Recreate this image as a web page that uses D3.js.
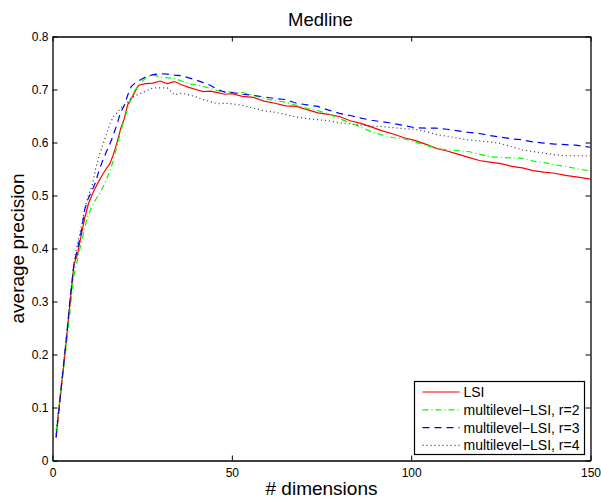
<!DOCTYPE html>
<html lang="en">
<head>
    <meta charset="UTF-8">
    <title>Medline</title>
    <script src="https://d3js.org/d3.v7.min.js"></script>
    <style>
        body { margin: 0; background: #fff; }
        text { font-family: 'Liberation Sans', Arial, sans-serif; fill: #000; }
        .tick text { font-size: 12px; }
        .axis path, .axis line { stroke: #000; }
    </style>
</head>
<body>
<script>
    const width  = 601;
    const height = 498;

    const dims = [1,2,3,4,5,6,7,8,9,10,11,12,13,14,15,16,17,18,19,20,21,22,23,24,
        26,28,30,32,34,36,38,40,42,44,46,48,50,
        53,56,59,62,65,68,71,74,77,80,83,86,89,92,95,98,101,104,107,110,113,116,119,
        122,125,128,131,134,137,140,143,146,150];

    const lsi = [0.045,0.108,0.170,0.235,0.305,0.370,0.390,0.425,0.458,0.484,0.501,0.515,0.528,0.540,0.551,0.560,0.578,0.600,0.626,0.645,0.672,0.683,0.696,0.708,
        0.711,0.712,0.716,0.711,0.715,0.709,0.704,0.700,0.696,0.697,0.694,0.691,0.692,
        0.687,0.685,0.678,0.674,0.669,0.668,0.662,0.656,0.653,0.649,0.641,0.636,0.629,0.622,0.616,0.609,0.604,0.597,0.589,0.584,0.578,0.572,0.566,
        0.563,0.560,0.555,0.552,0.547,0.544,0.542,0.538,0.535,0.531];

    const mlsi2 = [0.055,0.115,0.170,0.225,0.290,0.350,0.380,0.410,0.440,0.464,0.479,0.492,0.502,0.515,0.530,0.546,0.567,0.594,0.620,0.643,0.665,0.685,0.699,0.708,
        0.722,0.728,0.723,0.722,0.721,0.716,0.711,0.709,0.706,0.702,0.698,0.696,0.695,
        0.694,0.689,0.683,0.679,0.676,0.670,0.664,0.660,0.654,0.645,0.637,0.629,0.620,0.614,0.609,0.607,0.601,0.595,0.589,0.586,0.585,0.583,0.578,
        0.573,0.572,0.571,0.570,0.565,0.562,0.558,0.555,0.551,0.546];

    const mlsi3 = [0.043,0.110,0.175,0.240,0.310,0.372,0.400,0.432,0.474,0.495,0.509,0.525,0.548,0.566,0.582,0.597,0.615,0.635,0.657,0.670,0.690,0.706,0.712,0.716,
        0.724,0.728,0.730,0.729,0.727,0.726,0.722,0.718,0.713,0.708,0.700,0.695,0.694,
        0.691,0.689,0.686,0.683,0.681,0.674,0.671,0.668,0.661,0.655,0.651,0.646,0.642,0.639,0.636,0.632,0.628,0.627,0.627,0.625,0.622,0.619,0.617,
        0.613,0.610,0.607,0.605,0.601,0.599,0.597,0.596,0.595,0.591];

    const mlsi4 = [0.050,0.115,0.180,0.245,0.315,0.375,0.410,0.440,0.475,0.500,0.517,0.550,0.575,0.595,0.615,0.635,0.649,0.656,0.665,0.671,0.676,0.684,0.688,0.691,
        0.697,0.703,0.703,0.703,0.690,0.693,0.690,0.686,0.681,0.677,0.673,0.674,0.673,
        0.670,0.665,0.660,0.657,0.653,0.648,0.645,0.643,0.641,0.637,0.635,0.633,0.631,0.630,0.628,0.626,0.625,0.621,0.615,0.612,0.608,0.605,0.603,
        0.601,0.598,0.592,0.586,0.583,0.580,0.577,0.575,0.575,0.575];

    const xTicks = [0, 50, 100, 150];
    const yTicks = [0, 0.1, 0.2, 0.3, 0.4, 0.5, 0.6, 0.7, 0.8];

    const series = [
        {name: "LSI", values: lsi, color: "#ff0000", dash: null},
        {name: "multilevel\u2212LSI, r=2", values: mlsi2, color: "#00ff00", dash: "6,3,1,3"},
        {name: "multilevel\u2212LSI, r=3", values: mlsi3, color: "#0000ff", dash: "7,5"},
        {name: "multilevel\u2212LSI, r=4", values: mlsi4, color: "#333333", dash: "1,3"}
    ];

    const margin = {left: 52.5, right: 10.5, top: 36.5, bottom: 37.5};
    const x = d3.scaleLinear().domain([0, 150]).range([margin.left, width - margin.right]);
    const y = d3.scaleLinear().domain([0, 0.8]).range([height - margin.bottom, margin.top]);

    const svg = d3.select("body").append("svg").attr("width", width).attr("height", height);

    // clip plot area
    svg.append("clipPath").attr("id", "clip").append("rect")
        .attr("x", x(0)).attr("y", y(0.8)).attr("width", x(150) - x(0)).attr("height", y(0) - y(0.8));

    const line = d3.line().x((d, i) => x(dims[i])).y(d => y(d));

    svg.append("g").attr("clip-path", "url(#clip)")
        .selectAll("path").data(series).join("path")
        .attr("d", d => line(d.values))
        .attr("fill", "none")
        .attr("stroke", d => d.color)
        .attr("stroke-width", 1.2)
        .attr("stroke-dasharray", d => d.dash);

    // axes with inward ticks, mirrored on top/right
    const fmt = d3.format("");
    svg.append("g").attr("class", "axis").attr("transform", `translate(0,${y(0)})`)
        .call(d3.axisBottom(x).tickValues(xTicks).tickSizeInner(-5).tickSizeOuter(0).tickPadding(8).tickFormat(fmt));
    svg.append("g").attr("class", "axis").attr("transform", `translate(${x(0)},0)`)
        .call(d3.axisLeft(y).tickValues(yTicks).tickSizeInner(-5).tickSizeOuter(0).tickPadding(4).tickFormat(d => d === 0 ? "0" : d3.format(".1f")(d)));
    svg.append("g").attr("class", "axis").attr("transform", `translate(0,${y(0.8)})`)
        .call(d3.axisTop(x).tickValues(xTicks).tickSizeInner(-5).tickSizeOuter(0).tickFormat(""));
    svg.append("g").attr("class", "axis").attr("transform", `translate(${x(150)},0)`)
        .call(d3.axisRight(y).tickValues(yTicks).tickSizeInner(-5).tickSizeOuter(0).tickFormat(""));

    svg.selectAll(".axis .domain").attr("stroke-width", 1.3);

    // title and labels
    svg.append("text").attr("x", 320.5).attr("y", 26)
        .attr("text-anchor", "middle").style("font-size", "18.5px").text("Medline");
    svg.append("text").attr("x", (x(0) + x(150)) / 2).attr("y", 495)
        .attr("text-anchor", "middle").style("font-size", "19px").text("# dimensions");
    svg.append("text").attr("transform", `translate(24,${(y(0) + y(0.8)) / 2}) rotate(-90)`)
        .attr("text-anchor", "middle").style("font-size", "19px").text("average precision");

    // legend
    const lg = svg.append("g").attr("transform", "translate(414.5,381.5)");
    lg.append("rect").attr("width", 170).attr("height", 73)
        .attr("fill", "#fff").attr("stroke", "#000").attr("stroke-width", 1.2);
    const rows = lg.selectAll("g.row").data(series).join("g").attr("class", "row")
        .attr("transform", (d, i) => `translate(0,${10.5 + i * 17.8})`);
    rows.append("line").attr("x1", 8).attr("x2", 45)
        .attr("stroke", d => d.color).attr("stroke-width", 1.2)
        .attr("stroke-dasharray", d => d.dash);
    rows.append("text").attr("x", 49).attr("y", 5)
        .style("font-size", "14px").text(d => d.name);
</script>
</body>
</html>
